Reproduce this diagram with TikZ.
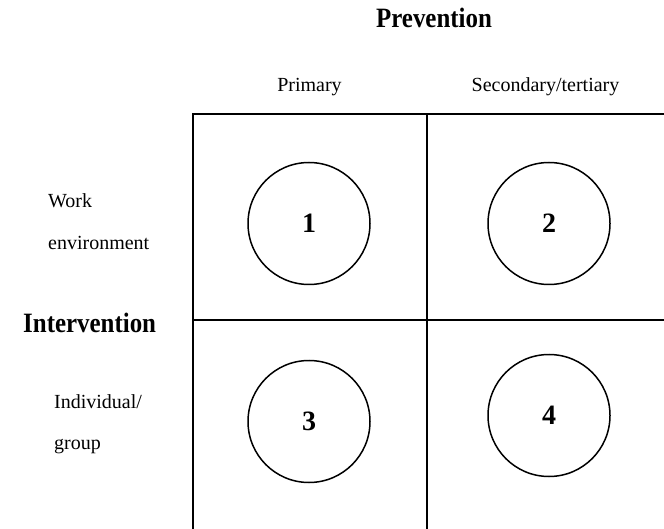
\documentclass[tikz,border=0pt]{standalone}
\usepackage{fontspec}
\setmainfont{Liberation Serif}
\begin{document}
\begin{tikzpicture}[x=1pt,y=1pt,
  gridline/.style={line width=1.6pt, line cap=rect},
  cell/.style={circle, draw, line width=1.5pt, minimum size=122pt, inner sep=0pt,
               font=\fontsize{28}{30}\selectfont\bfseries},
  head/.style={inner sep=0pt, font=\fontsize{28}{30}\selectfont\bfseries},
  lab/.style={inner sep=0pt, font=\fontsize{20}{22}\selectfont}]
\useasboundingbox (0,0) rectangle (664,-529);

% corners of the 2x2 grid
\coordinate (tl) at (193,-114);
\coordinate (tm) at (427,-114);
\coordinate (tr) at (664,-114);
\coordinate (ml) at (193,-320);
\coordinate (mr) at (664,-320);
\coordinate (bl) at (193,-529);
\coordinate (bm) at (427,-529);

\draw[gridline] (tl) -- (tr);
\draw[gridline] (ml) -- (mr);
\draw[gridline] (tl) -- (bl);
\draw[gridline] (tm) -- (bm);

% cells
\node[cell] (c1) at (309,-223.5) {1};
\node[cell] (c2) at (549,-223.5) {2};
\node[cell] (c3) at (309,-421.5) {3};
\node[cell] (c4) at (549,-415.5) {4};

% column headings
\node[head, anchor=base] (prev) at (434,-28) {\scalebox{0.89}[1]{Prevention}};
\node[lab, anchor=base] (prim) at (309.5,-92) {Primary};
\node[lab, anchor=base] (sec) at (545.5,-92) {Secondary/tertiary};

% row headings
\node[head, anchor=base west] (interv) at (23,-332) {\scalebox{0.89}[1]{Intervention}};
\node[lab, anchor=base west] (work) at (48,-208) {Work};
\node[lab, anchor=base west] (env) at (48,-250) {environment};
\node[lab, anchor=base west] (indiv) at (54,-408) {Individual/};
\node[lab, anchor=base west] (grp) at (54,-449) {group};
\end{tikzpicture}
\end{document}
